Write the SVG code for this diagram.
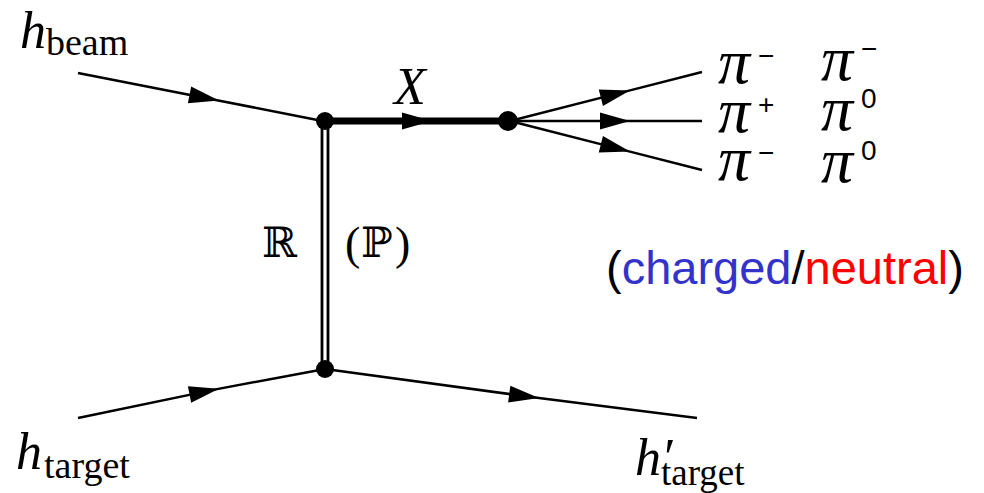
<svg xmlns="http://www.w3.org/2000/svg" width="984" height="493" viewBox="0 0 984 493">
<style>
.ln{stroke:#000;stroke-width:2.5;fill:none}
.it{font-family:"Liberation Serif",serif;font-style:italic}
.rm{font-family:"Liberation Serif",serif}
.pi{font-family:"Liberation Serif",serif;font-style:italic;font-size:64px}
.sup{font-family:"Liberation Sans",sans-serif;font-size:28px}
.lbl{font-family:"Liberation Sans",Arial,sans-serif;font-size:47px}
</style>
<defs>
<marker id="ar" markerUnits="userSpaceOnUse" markerWidth="40" markerHeight="40" refX="0" refY="0" viewBox="-30 -20 40 40" orient="auto" overflow="visible">
<path d="M2,0 L-28,-8.5 L-28,8.5 Z" fill="#000"/>
</marker>
</defs>
<rect width="984" height="493" fill="#fff"/>
<g id="connectors">
<path class="ln" d="M78,73 L217,100.2 L325,121.5" marker-mid="url(#ar)"/>
<path d="M325,121 L430,121 L510,121" stroke="#000" stroke-width="7" fill="none" marker-mid="url(#ar)"/>
<path class="ln" d="M510,121 L628,90.9 L702,72" marker-mid="url(#ar)"/>
<path class="ln" d="M510,121 L628,121 L702,121" marker-mid="url(#ar)"/>
<path class="ln" d="M510,121 L628,151.1 L702,170" marker-mid="url(#ar)"/>
<line x1="322" y1="121" x2="322" y2="369" stroke="#000" stroke-width="2.8"/>
<line x1="328" y1="121" x2="328" y2="369" stroke="#000" stroke-width="2.8"/>
<path class="ln" d="M78,418 L217,389.1 L325,369" marker-mid="url(#ar)"/>
<path class="ln" d="M325,369 L537,397.8 L697,418" marker-mid="url(#ar)"/>
</g>
<g id="v1"><circle cx="325" cy="121" r="9"/></g>
<g id="v2"><circle cx="508" cy="121" r="10"/></g>
<g id="v3"><circle cx="325" cy="369" r="9"/></g>
<g id="hbeam"><text x="20" y="48" class="it" font-size="52">h</text><text x="46" y="55" class="rm" font-size="38">beam</text></g>
<g id="htarget"><text x="16" y="469" class="it" font-size="52">h</text><text x="44" y="478" class="rm" font-size="38">target</text></g>
<g id="htarget2"><text x="635" y="475" class="it" font-size="52">h′</text><text x="661" y="485" class="rm" font-size="37">target</text></g>
<g id="X"><text x="394" y="104" class="it" font-size="52">X</text></g>
<g id="R"><text x="262" y="257" font-family="DejaVu Serif,serif" font-size="42">ℝ</text><text x="345" y="259" class="rm" font-size="46">(</text><text x="361" y="257" font-family="DejaVu Serif,serif" font-size="42">ℙ</text><text x="395" y="259" class="rm" font-size="46">)</text></g>
<g id="pions">
<text x="718" y="83" class="pi">π</text><text x="758" y="65" class="sup">−</text>
<text x="718" y="132" class="pi">π</text><text x="758" y="114" class="sup">+</text>
<text x="718" y="180" class="pi">π</text><text x="758" y="162" class="sup">−</text>
<text x="821" y="80" class="pi">π</text><text x="861" y="58" class="sup">−</text>
<text x="821" y="130" class="pi">π</text><text x="861" y="108" class="sup">0</text>
<text x="821" y="182" class="pi">π</text><text x="861" y="160" class="sup">0</text>
</g>
<g id="legend"><text x="606" y="284" class="lbl"><tspan fill="#000">(</tspan><tspan fill="#3333cc">charged</tspan><tspan fill="#000">/</tspan><tspan fill="#ff0000">neutral</tspan><tspan fill="#000">)</tspan></text></g>
</svg>
